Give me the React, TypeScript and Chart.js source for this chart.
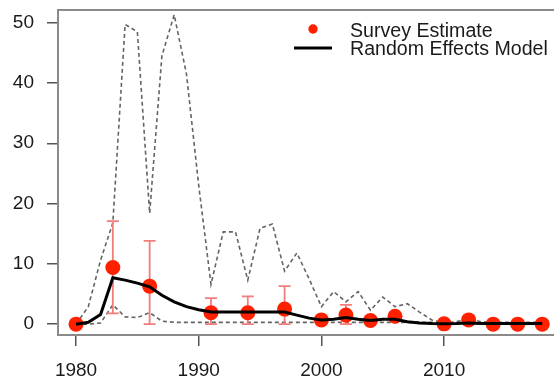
import React, { useEffect, useRef } from "react";
import Chart from "chart.js/auto";

const years = [1980, 1981, 1982, 1983, 1984, 1985, 1986, 1987, 1988, 1989, 1990, 1991, 1992, 1993, 1994, 1995, 1996, 1997, 1998, 1999, 2000, 2001, 2002, 2003, 2004, 2005, 2006, 2007, 2008, 2009, 2010, 2011, 2012, 2013, 2014, 2015, 2016, 2017, 2018];
const modelValues = [0, 0.3, 1.6, 7.7, 7.3, 6.8, 6.2, 4.8, 3.7, 2.9, 2.4, 2.0, 2.0, 2.0, 2.0, 2.0, 2.0, 2.0, 1.5, 1.0, 0.7, 0.8, 1.1, 0.8, 0.6, 0.8, 0.8, 0.4, 0.2, 0.1, 0.05, 0.1, 0.2, 0.1, 0.1, 0.1, 0.1, 0.1, 0.1];
const upperValues = [0, 2.9, 10.6, 16.8, 49.7, 48.5, 18.4, 44.5, 51.3, 41.5, 23, 6.6, 15.3, 15.3, 7.3, 15.9, 16.6, 8.8, 11.8, 7.5, 2.9, 5.4, 3.7, 5.4, 2.3, 4.5, 2.9, 3.4, 2.0, 0.7, 0.2, 0.4, 0.9, 0.4, 0.3, 0.3, 0.3, 0.3, 0.3];
const lowerValues = [0, 0, 0.2, 3.2, 1.2, 1.1, 1.9, 0.5, 0.3, 0.3, 0.3, 0.3, 0.3, 0.3, 0.3, 0.3, 0.3, 0.3, 0.3, 0.3, 0.3, 0.3, 0.3, 0.3, 0.3, 0.3, 0.3, 0.3, 0.3, 0.3, 0.1, 0.1, 0.1, 0.1, 0.1, 0.1, 0.1, 0.1, 0.1];

const surveyYears = [1980, 1983, 1986, 1991, 1994, 1997, 2000, 2002, 2004, 2006, 2010, 2012, 2014, 2016, 2018];
const surveyValues = [0, 9.4, 6.3, 1.9, 1.9, 2.5, 0.7, 1.5, 0.6, 1.3, 0.05, 0.7, 0, 0, 0];
const surveyLow = [null, 1.8, 0, 0, 0, 0, null, 0, null, null, null, null, null, null, null];
const surveyHigh = [null, 17.1, 13.8, 4.3, 4.6, 6.3, null, 3.2, null, null, null, null, null, null, null];

const xTicks = [1980, 1990, 2000, 2010];
const yTicks = [0, 10, 20, 30, 40, 50];

const legendLabels = ["Survey Estimate", "Random Effects Model"];

const RED = "rgb(255,32,0)";
const ERR = "rgb(243,125,125)";
const DASH = "rgb(100,100,100)";
const FONT = "'Liberation Sans', Arial, sans-serif";

const zeroPad = (axis: any) => {
  axis.paddingTop = 0;
  axis.paddingBottom = 0;
  axis.paddingLeft = 0;
  axis.paddingRight = 0;
};

export default function App() {
  const ref = useRef<HTMLCanvasElement | null>(null);

  useEffect(() => {
    if (!ref.current) return;

    const errorBars = {
      id: "errorBars",
      beforeDatasetDraw(chart: any, args: any) {
        if (args.index !== 3) return;
        const { ctx, scales } = chart;
        ctx.save();
        ctx.strokeStyle = ERR;
        ctx.lineWidth = 1.8;
        surveyYears.forEach((yr, i) => {
          const lo = surveyLow[i];
          const hi = surveyHigh[i];
          if (lo == null || hi == null) return;
          const x = scales.x.getPixelForValue(yr);
          const y1 = scales.y.getPixelForValue(lo);
          const y2 = scales.y.getPixelForValue(hi);
          ctx.beginPath();
          ctx.moveTo(x, y1);
          ctx.lineTo(x, y2);
          ctx.moveTo(x - 6, y1);
          ctx.lineTo(x + 6, y1);
          ctx.moveTo(x - 6, y2);
          ctx.lineTo(x + 6, y2);
          ctx.stroke();
        });
        ctx.restore();
      },
    };

    const frame = {
      id: "frame",
      afterDatasetsDraw(chart: any) {
        const { ctx, chartArea } = chart;
        ctx.save();
        ctx.strokeStyle = "#8a8a8a";
        ctx.lineWidth = 2;
        ctx.beginPath();
        ctx.moveTo(chartArea.right + 10, chartArea.top);
        ctx.lineTo(chartArea.left, chartArea.top);
        ctx.lineTo(chartArea.left, chartArea.bottom);
        ctx.lineTo(chartArea.right + 10, chartArea.bottom);
        ctx.stroke();
        ctx.restore();
      },
    };

    const legend = {
      id: "customLegend",
      afterDraw(chart: any) {
        const { ctx, chartArea } = chart;
        const x0 = chartArea.right - 260;
        const y0 = chartArea.top;
        ctx.save();
        ctx.fillStyle = RED;
        ctx.beginPath();
        ctx.arc(x0 + 19, y0 + 19, 4.7, 0, Math.PI * 2);
        ctx.fill();
        ctx.strokeStyle = "#000";
        ctx.lineWidth = 3;
        ctx.beginPath();
        ctx.moveTo(x0, y0 + 38);
        ctx.lineTo(x0 + 38, y0 + 38);
        ctx.stroke();
        ctx.fillStyle = "#1a1a1a";
        ctx.font = `19.6px ${FONT}`;
        ctx.textBaseline = "alphabetic";
        ctx.textAlign = "left";
        ctx.fillText(legendLabels[0], x0 + 56, y0 + 26.7);
        ctx.fillText(legendLabels[1], x0 + 56, y0 + 45);
        ctx.restore();
      },
    };

    const chart = new Chart(ref.current, {
      type: "line",
      data: {
        datasets: [
          {
            label: "Random Effects Model",
            data: years.map((x, i) => ({ x, y: modelValues[i] })),
            borderColor: "#000",
            borderWidth: 3,
            pointRadius: 0,
            fill: false,
            order: 0,
          },
          {
            label: "upper",
            data: years.map((x, i) => ({ x, y: upperValues[i] })),
            borderColor: DASH,
            borderWidth: 1.6,
            borderDash: [4, 3],
            pointRadius: 0,
            fill: false,
            order: 3,
          },
          {
            label: "lower",
            data: years.map((x, i) => ({ x, y: lowerValues[i] })),
            borderColor: DASH,
            borderWidth: 1.6,
            borderDash: [4, 3],
            pointRadius: 0,
            fill: false,
            order: 3,
          },
          {
            label: "Survey Estimate",
            data: surveyYears.map((x, i) => ({ x, y: surveyValues[i] })),
            showLine: false,
            pointRadius: 7.5,
            pointBackgroundColor: RED,
            pointBorderColor: RED,
            pointBorderWidth: 0,
            order: 1,
          },
        ],
      },
      options: {
        responsive: false,
        animation: false,
        layout: { autoPadding: false, padding: { top: 10, left: 0, right: 0, bottom: 0 } },
        plugins: { legend: { display: false }, tooltip: { enabled: false } },
        scales: {
          x: {
            type: "linear",
            min: 1978.53,
            max: 2018.96,
            afterBuildTicks: (axis: any) => {
              axis.ticks = xTicks.map((v) => ({ value: v }));
            },
            afterFit: (axis: any) => {
              axis.height = 43;
              zeroPad(axis);
            },
            border: { display: false },
            grid: { drawOnChartArea: false, drawTicks: true, tickLength: 11, color: "#555", lineWidth: 1.5 },
            ticks: { color: "#1a1a1a", font: { family: FONT, size: 19 }, padding: 13, maxRotation: 0, autoSkip: false, callback: (v: any) => String(v) },
          },
          y: {
            type: "linear",
            min: -1.8,
            max: 52.1,
            afterBuildTicks: (axis: any) => {
              axis.ticks = yTicks.map((v) => ({ value: v }));
            },
            afterFit: (axis: any) => {
              axis.width = 58;
              zeroPad(axis);
            },
            border: { display: false },
            grid: { drawOnChartArea: false, drawTicks: true, tickLength: 11, color: "#555", lineWidth: 1.5 },
            ticks: { color: "#1a1a1a", font: { family: FONT, size: 19 }, padding: 13, callback: (v: any) => String(v) },
          },
        },
      },
      plugins: [errorBars, frame, legend],
    });

    return () => chart.destroy();
  }, []);

  return (
    <div style={{ position: "absolute", left: 0, top: 0, width: 554, height: 378, background: "#fff" }}>
      <canvas ref={ref} width={554} height={378} style={{ display: "block" }} />
    </div>
  );
}
